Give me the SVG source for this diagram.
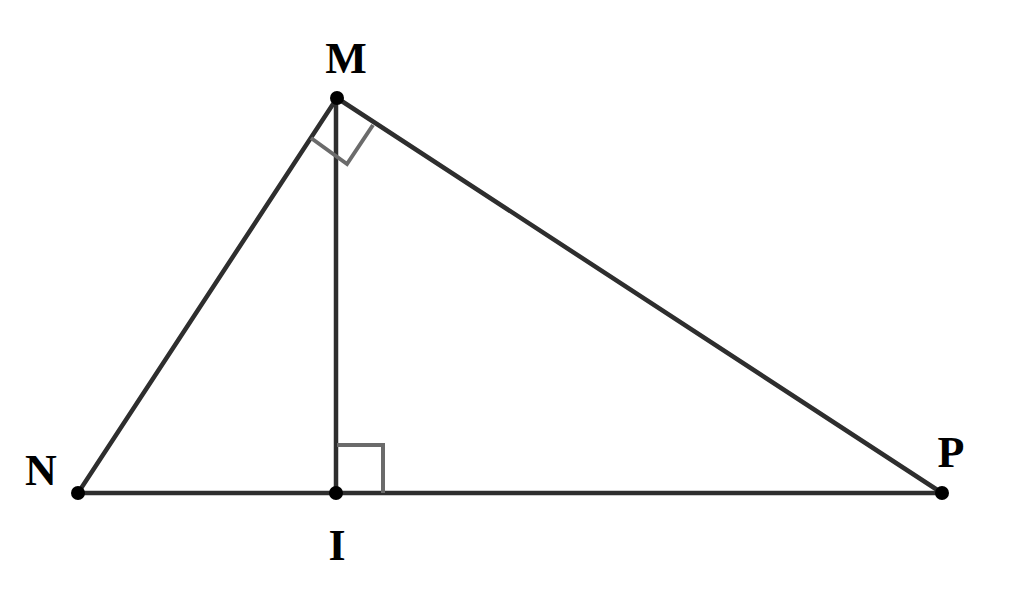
<svg xmlns="http://www.w3.org/2000/svg" width="1024" height="599" viewBox="0 0 1024 599">
<style>
.edge{stroke:#2e2e2e;stroke-width:4.5;fill:none;stroke-linecap:round}
.mark{stroke:#6b6b6b;stroke-width:4;fill:none}
.dot{fill:#000}
.lbl{font-family:"Liberation Serif",serif;font-weight:bold;font-size:44px;fill:#000;text-anchor:middle}
</style>
<rect width="1024" height="599" fill="#fff"/>
<g id="connectors">
<line class="edge" x1="337" y1="98" x2="78" y2="493"/>
<line class="edge" x1="337" y1="98" x2="942" y2="493"/>
<line class="edge" x1="78" y1="493" x2="942" y2="493"/>
<line class="edge" x1="336" y1="98" x2="336" y2="493"/>
<polyline class="mark" points="311,138 347,164 373,125"/>
<polyline class="mark" points="337,445 383,445 383,493"/>
</g>
<g id="M"><circle class="dot" cx="337" cy="98" r="7"/><text class="lbl" x="346" y="73">M</text></g>
<g id="N"><circle class="dot" cx="78" cy="493" r="7"/><text class="lbl" x="41" y="485">N</text></g>
<g id="I"><circle class="dot" cx="336" cy="493" r="7"/><text class="lbl" x="337" y="560">I</text></g>
<g id="P"><circle class="dot" cx="942" cy="493" r="7"/><text class="lbl" x="951" y="467">P</text></g>
</svg>
